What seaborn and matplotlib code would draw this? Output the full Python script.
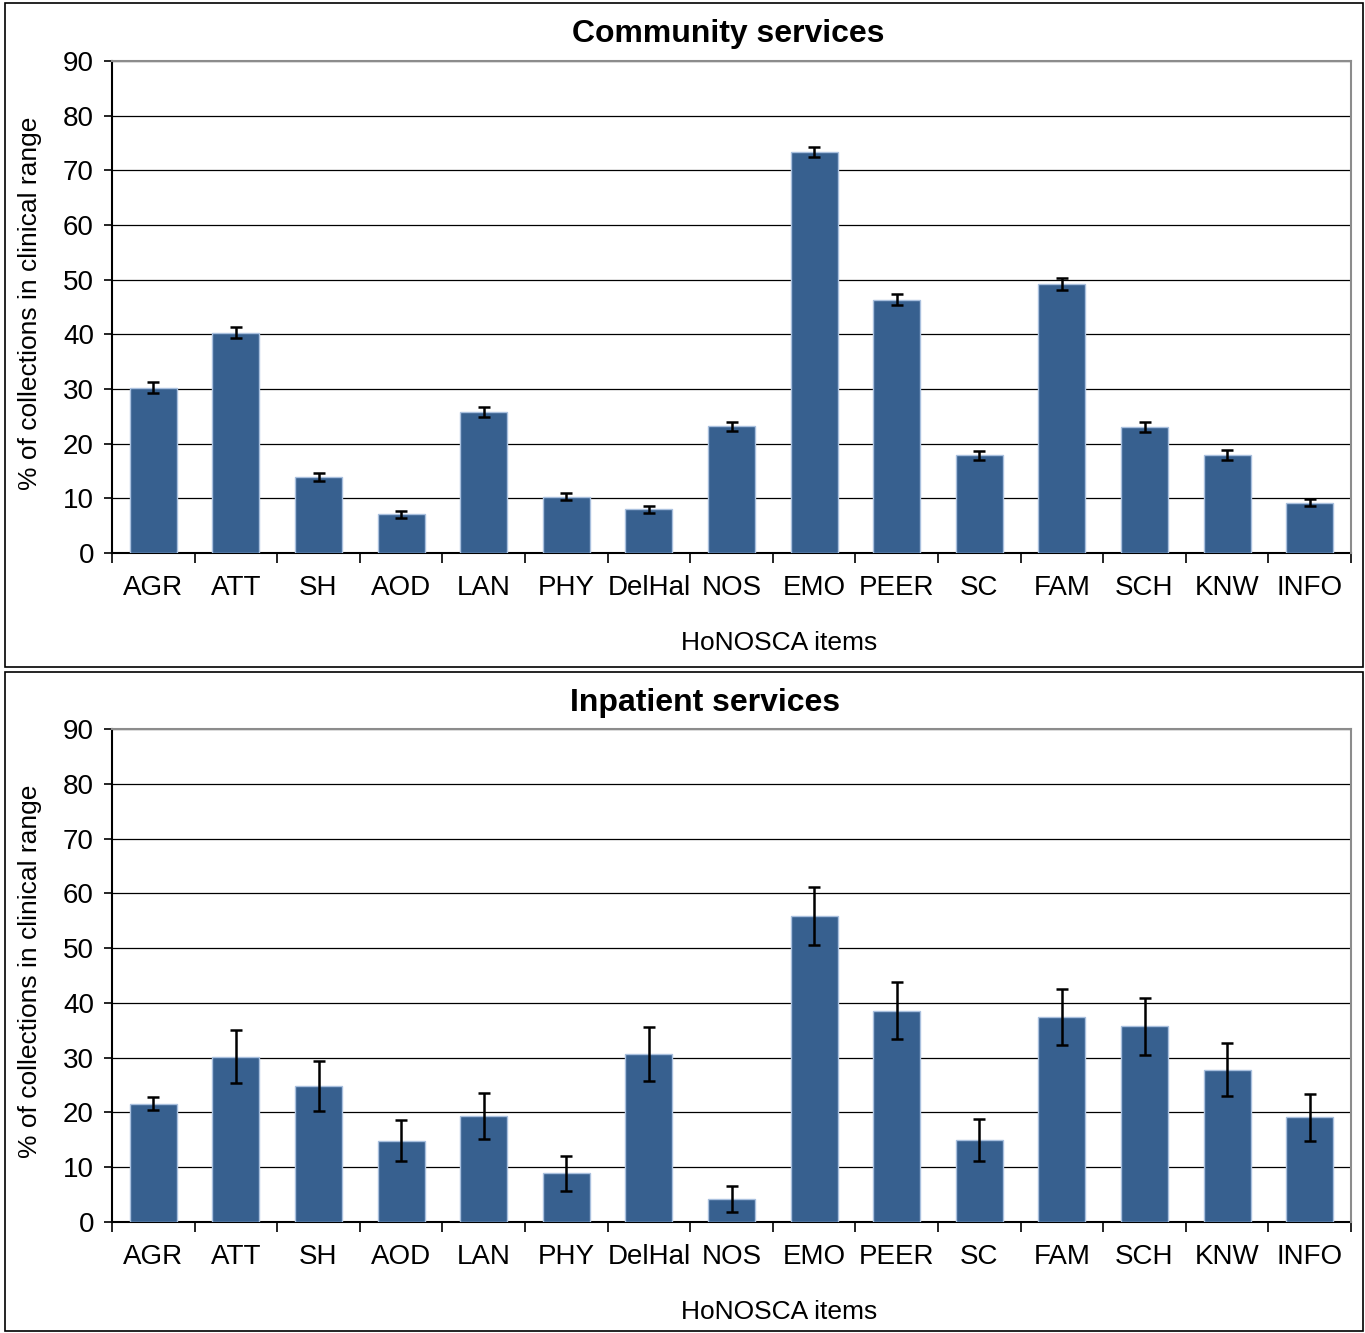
import numpy as np
import pandas as pd
import matplotlib
matplotlib.use("Agg")
import matplotlib.pyplot as plt
import seaborn as sns

items = ["AGR", "ATT", "SH", "AOD", "LAN", "PHY", "DelHal", "NOS",
         "EMO", "PEER", "SC", "FAM", "SCH", "KNW", "INFO"]

# % of collections in clinical range, with half-width of the error bar
community_pct = [30.2, 40.3, 13.9, 7.1, 25.8, 10.3, 8.0, 23.2,
                 73.3, 46.3, 17.9, 49.2, 23.0, 17.9, 9.2]
community_err = [1.0, 1.0, 0.75, 0.65, 0.9, 0.6, 0.6, 0.8,
                 0.9, 1.0, 0.8, 1.1, 0.9, 0.95, 0.6]

inpatient_pct = [21.6, 30.2, 24.8, 14.8, 19.3, 8.9, 30.7, 4.2,
                 55.9, 38.6, 14.9, 37.4, 35.7, 27.8, 19.1]
inpatient_err = [1.15, 4.9, 4.6, 3.75, 4.2, 3.15, 4.95, 2.3,
                 5.3, 5.2, 3.85, 5.15, 5.15, 4.8, 4.25]

panels = [
    ("Community services", community_pct, community_err),
    ("Inpatient services", inpatient_pct, inpatient_err),
]

sns.set_style("white")
plt.rcParams['font.family'] = ['Liberation Sans', 'DejaVu Sans']
for key in ['text.color', 'axes.labelcolor', 'xtick.color', 'ytick.color']:
    plt.rcParams[key] = 'black'

W, H = 1365, 1333
fig = plt.figure(figsize=(W / 100, H / 100), dpi=100)

bar_color = "#37608F"
edge_color = "#A9C0DE"

# pixel layout of each panel: (frame top, frame bottom, plot top, plot bottom, title x)
layout = [(3, 667, 61, 553, 728), (672, 1331, 729, 1222, 705)]
left_px, right_px = 112, 1351

for (title, pct, err), (ftop, fbot, ptop, pbot, tx) in zip(panels, layout):
    # outer chart frame
    fig.add_artist(plt.Rectangle((5 / W, 1 - fbot / H), (1363 - 5) / W, (fbot - ftop) / H,
                                 transform=fig.transFigure, fill=False,
                                 edgecolor="black", linewidth=1.2))

    ax = fig.add_axes([left_px / W, 1 - pbot / H, (right_px - left_px) / W, (pbot - ptop) / H])
    df = pd.DataFrame({"item": items, "pct": pct, "err": err})
    sns.barplot(data=df, x="item", y="pct", color=bar_color, width=0.57,
                edgecolor=edge_color, linewidth=1, saturation=1, ax=ax, zorder=3)
    ax.errorbar(np.arange(len(items)), df["pct"], yerr=df["err"], fmt="none",
                ecolor="black", elinewidth=1.8, capsize=4.5, capthick=1.8, zorder=4)

    ax.set_xlim(-0.5, len(items) - 0.5)
    ax.set_ylim(0, 90)
    ax.set_yticks(range(0, 91, 10))
    ax.set_xticks(np.arange(-0.5, len(items), 1.0), minor=True)
    ax.tick_params(axis="x", which="major", length=0, pad=16, labelsize=20)
    ax.tick_params(axis="x", which="minor", length=7, width=1.2, color="black", direction="out", bottom=True)
    ax.tick_params(axis="y", length=6, width=1.2, color="black", direction="out", left=True, pad=7, labelsize=20)
    ax.grid(axis="y", color="black", linewidth=0.9, zorder=0)
    ax.set_axisbelow(True)
    for s in ["left", "bottom"]:
        ax.spines[s].set_color("black")
        ax.spines[s].set_linewidth(1.5)
    for s in ["top", "right"]:
        ax.spines[s].set_color("#8C8C8C")
        ax.spines[s].set_linewidth(1.5)
        ax.spines[s].set_zorder(5)
    ax.set_xlabel("")
    ax.set_ylabel("")

    fig.text(tx / W, 1 - (ftop + 31) / H, title, ha="center", va="center",
             fontsize=23, fontweight="bold")
    fig.text(779 / W, 1 - (pbot + 90) / H, "HoNOSCA items", ha="center", va="center", fontsize=19)
    fig.text(30 / W, 1 - ((ptop + pbot) / 2 - 4) / H, "% of collections in clinical range",
             ha="center", va="center", rotation=90, fontsize=19)

fig.savefig("out.png", dpi=100, facecolor="white")
